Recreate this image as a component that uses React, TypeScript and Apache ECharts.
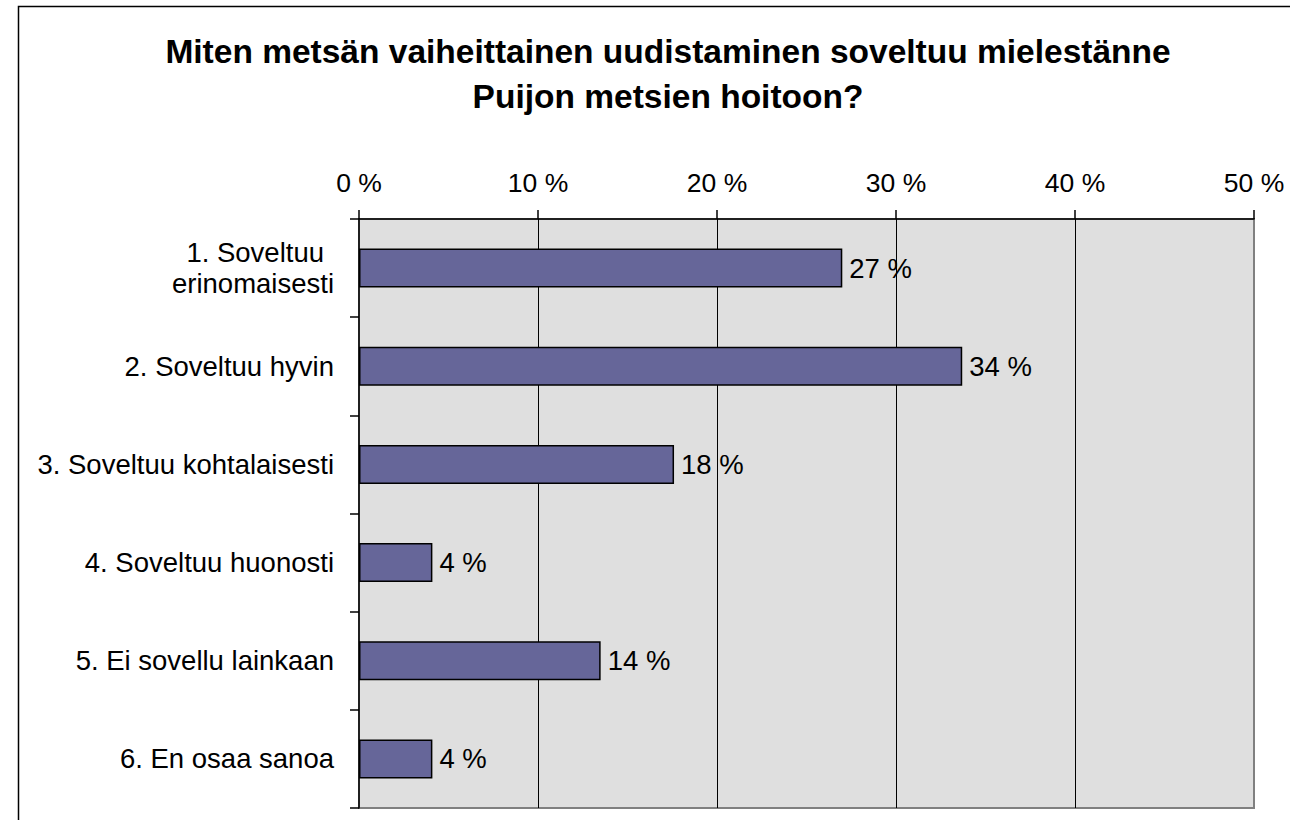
import React, { useEffect, useRef } from "react";
import * as echarts from "echarts";

const categories = [
  "1. Soveltuu\nerinomaisesti",
  "2. Soveltuu hyvin",
  "3. Soveltuu kohtalaisesti",
  "4. Soveltuu huonosti",
  "5. Ei sovellu lainkaan",
  "6. En osaa sanoa",
];
const values = [27.0, 33.7, 17.6, 4.1, 13.5, 4.1];
const titleLines = [
  "Miten metsän vaiheittainen uudistaminen soveltuu mielestänne",
  "Puijon metsien hoitoon?",
];
const FONT = "'Liberation Sans', Arial, sans-serif";

export default function App() {
  const ref = useRef<HTMLDivElement>(null);
  useEffect(() => {
    if (!ref.current) return;
    const chart = echarts.init(ref.current, null, { renderer: "svg" });
    const catFont = { fontFamily: FONT, fontSize: 27.5, color: "#000", lineHeight: 31 };
    chart.setOption({
      animation: false,
      backgroundColor: "#ffffff",
      title: {
        text: titleLines.join("\n"),
        left: 663,
        textAlign: "center",
        top: 24,
        textStyle: {
          fontFamily: FONT,
          fontSize: 33.5,
          fontWeight: "bold",
          color: "#000",
          lineHeight: 45,
        },
      },
      graphic: [
        {
          type: "rect",
          shape: { x: 18.5, y: 6.5, width: 1290, height: 830 },
          style: { fill: "none", stroke: "#000", lineWidth: 1.5 },
          silent: true,
          z: 100,
        },
      ],
      grid: {
        left: 359,
        top: 219,
        width: 895,
        height: 589,
        show: true,
        backgroundColor: "#dfdfdf",
        borderColor: "#808080",
        borderWidth: 2,
        containLabel: false,
      },
      xAxis: {
        type: "value",
        position: "top",
        min: 0,
        max: 50,
        interval: 10,
        axisLine: { show: true, lineStyle: { color: "#000", width: 1.5 } },
        axisTick: { show: true, length: 9, lineStyle: { color: "#000", width: 1.5 } },
        axisLabel: {
          formatter: "{value} %",
          fontFamily: FONT,
          fontSize: 26.5,
          color: "#000",
          margin: 23,
        },
        splitLine: {
          show: true,
          showMinLine: false,
          showMaxLine: false,
          lineStyle: { color: "#000", width: 1 },
        },
      },
      yAxis: {
        type: "category",
        inverse: true,
        data: categories,
        axisLine: { show: true, lineStyle: { color: "#000", width: 1.5 } },
        axisTick: { show: true, length: 9, alignWithLabel: false, lineStyle: { color: "#000", width: 1.5 } },
        axisLabel: {
          ...catFont,
          margin: 25,
          formatter: (v: string) => {
            const parts = v.split("\n");
            if (parts.length === 1) return v;
            return "{p|" + parts[0] + "}\n{n|" + parts.slice(1).join("\n") + "}";
          },
          rich: {
            p: { ...catFont, padding: [0, 10, 0, 0] },
            n: { ...catFont },
          },
        },
        splitLine: { show: false },
      },
      series: [
        {
          type: "bar",
          data: values,
          barWidth: 39,
          itemStyle: { color: "#666699", borderColor: "#000", borderWidth: 1.5 },
          label: {
            show: true,
            position: "right",
            distance: 7,
            formatter: (p: any) => Math.round(p.value) + " %",
            fontFamily: FONT,
            fontSize: 27.5,
            color: "#000",
          },
        },
      ],
    });
    return () => chart.dispose();
  }, []);
  return (
    <div
      ref={ref}
      style={{ position: "fixed", left: 0, top: 0, width: 1290, height: 820 }}
    />
  );
}
